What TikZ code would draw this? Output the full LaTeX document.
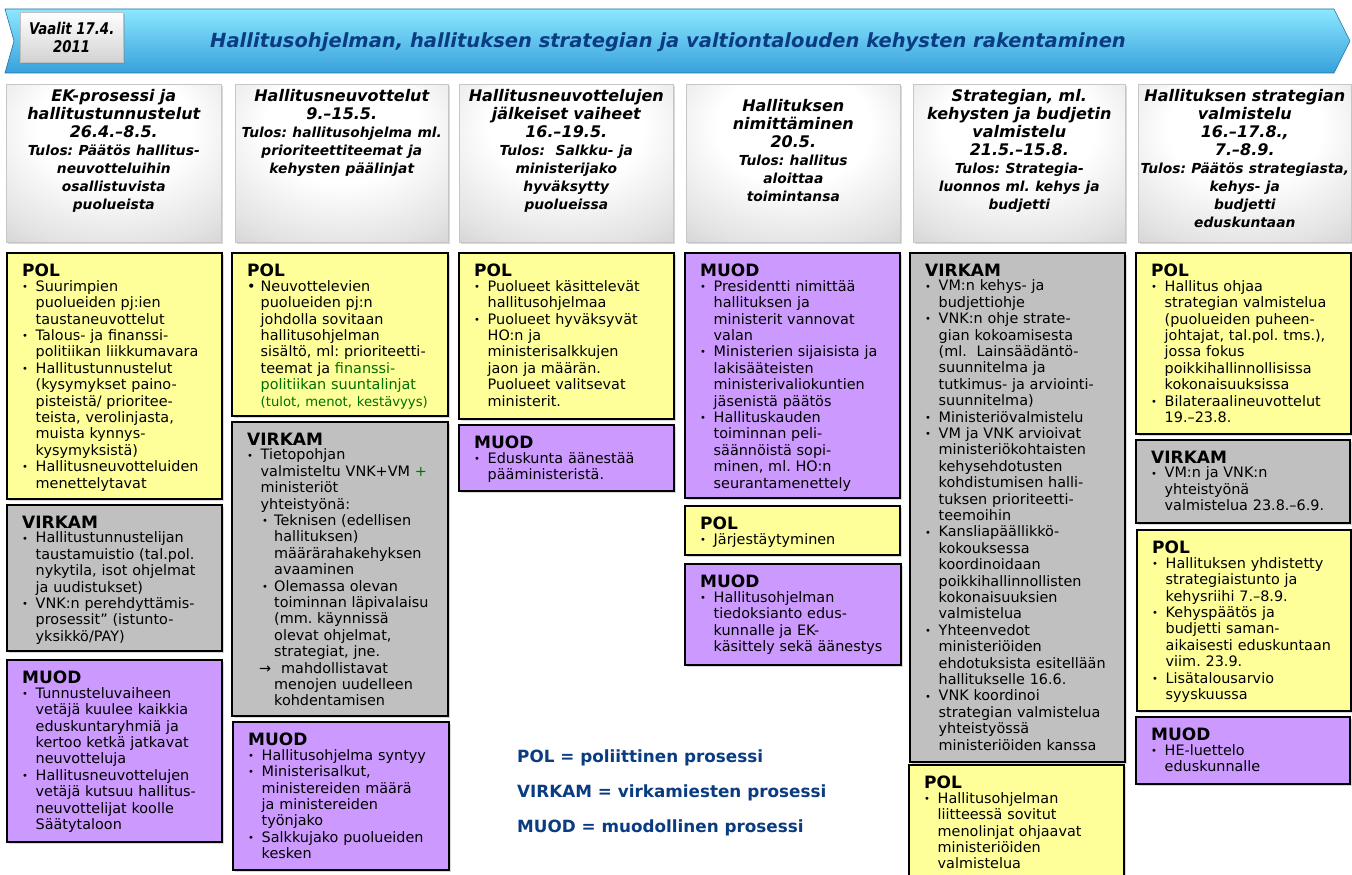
\documentclass[tikz,border=0pt]{standalone}
\usepackage{fontspec}
\setmainfont{DejaVu Sans}[ItalicFont={DejaVu Sans Oblique},BoldItalicFont={DejaVu Sans Bold Oblique}]
\usetikzlibrary{shadows}
\definecolor{polc}{HTML}{FFFF99}
\definecolor{virc}{HTML}{C0C0C0}
\definecolor{muoc}{HTML}{CC99FF}
\definecolor{navy}{RGB}{10,60,130}
\definecolor{grn}{RGB}{0,110,0}
\definecolor{banT}{RGB}{140,232,255}
\definecolor{banM}{RGB}{80,212,250}
\definecolor{banB}{RGB}{55,160,220}
\pgfdeclareradialshading{hdrshade}{\pgfpoint{0bp}{15bp}}{color(0bp)=(white); color(18bp)=(white); color(35bp)=(gray!22); color(50bp)=(gray!48); color(80bp)=(gray!65)}
\newcommand\lb{\newline}
\newcommand\bsym{\raisebox{0.9pt}{\fontsize{10}{10}\selectfont\textbullet}}
\newcommand\itA{\par\hangindent=13.5pt\hangafter=1\noindent\makebox[13.5pt][l]{\bsym}}
\newcommand\itAbig{\par\hangindent=13.5pt\hangafter=1\noindent\makebox[13.5pt][l]{\textbullet}}
\newcommand\itB{\par\hangindent=27pt\hangafter=1\noindent\hspace*{15pt}\makebox[12pt][l]{\bsym}}
\newcommand\itR{\par\hangindent=27pt\hangafter=1\noindent\hspace*{12pt}\makebox[22pt][l]{→}}
\newcommand\bxhead[1]{{\fontsize{17}{17}\selectfont\bfseries #1}\par\vspace{-2pt}}
\newcommand\tulos{\fontsize{13.8}{18}\selectfont}
\tikzset{
  pbox/.style={draw=black, line width=1.6pt, anchor=north west, inner sep=0pt, outer sep=0pt,
    drop shadow={shadow xshift=1.5pt, shadow yshift=-1.5pt, opacity=0.3}},
  hdr/.style={draw=gray!45, line width=0.6pt, shading=hdrshade, anchor=north west, inner sep=0pt,
    drop shadow={shadow xshift=2pt, shadow yshift=-2pt, opacity=0.3}},
  btxt/.style={anchor=north west, inner sep=0pt, align=left, font=\fontsize{14.4}{16.4}\selectfont},
  htxt/.style={anchor=north, inner sep=0pt, align=center, font=\bfseries\itshape\fontsize{16}{18}\selectfont},
  legend/.style={anchor=west, inner sep=0pt, text=navy, font=\bfseries\fontsize{16.8}{18}\selectfont}
}
\begin{document}
\frenchspacing
\begin{tikzpicture}[x=1pt,y=-1pt]
\useasboundingbox (0,0) rectangle (1352,875);
\fill[white] (0,0) rectangle (1352,875);
% banner
\shade[top color=banT, middle color=banM, bottom color=banB, draw=banB!70!black, line width=0.6pt]
  (5,9) -- (1334,9) -- (1350,41) -- (1334,73) -- (5,73) -- (14,41) -- cycle;
\node[draw=gray!50, top color=white, bottom color=gray!35, anchor=north west, minimum width=103pt, minimum height=50pt,
  inner sep=0pt, align=center, font=\bfseries\itshape\fontsize{14}{18}\selectfont,
  drop shadow={shadow xshift=2pt, shadow yshift=-2pt, opacity=0.35}] (vaalit) at (20,12)
  {\scalebox{0.95}[1.15]{Vaalit 17.4.}\\\scalebox{0.95}[1.15]{2011}};
\node[text=navy, inner sep=0pt, font=\bfseries\itshape\fontsize{19.5}{22}\selectfont] (title) at (668,42)
  {Hallitusohjelman, hallituksen strategian ja valtiontalouden kehysten rakentaminen};
% header boxes
\node[hdr, minimum width=215pt, minimum height=158pt] (h1) at (6,84) {};
\node[hdr, minimum width=213pt, minimum height=158pt] (h2) at (235,84) {};
\node[hdr, minimum width=214pt, minimum height=158pt] (h3) at (459,84) {};
\node[hdr, minimum width=214pt, minimum height=158pt] (h4) at (686,84) {};
\node[hdr, minimum width=212pt, minimum height=158pt] (h5) at (913,84) {};
\node[hdr, minimum width=213pt, minimum height=158pt] (h6) at (1138,84) {};
\node[htxt, text width=215pt] (h1T) at ([shift={(0,5)}]h1.north) {EK-prosessi ja\\hallitustunnustelut\\26.4.–8.5.\\\tulos Tulos: Päätös hallitus-\\neuvotteluihin\\osallistuvista\\puolueista};
\node[htxt, text width=215pt] (h2T) at ([shift={(0,5)}]h2.north) {Hallitusneuvottelut\\9.–15.5.\\\tulos Tulos: hallitusohjelma ml.\\prioriteettiteemat ja\\kehysten päälinjat};
\node[htxt, text width=215pt] (h3T) at ([shift={(0,5)}]h3.north) {Hallitusneuvottelujen\\jälkeiset vaiheet\\16.–19.5.\\\tulos Tulos:\ \ Salkku- ja\\ministerijako\\hyväksytty\\puolueissa};
\node[htxt, text width=215pt] (h4T) at ([shift={(0,15)}]h4.north) {Hallituksen\\nimittäminen\\20.5.\\\tulos Tulos: hallitus\\aloittaa\\toimintansa};
\node[htxt, text width=215pt] (h5T) at ([shift={(0,5)}]h5.north) {Strategian, ml.\\kehysten ja budjetin\\valmistelu\\21.5.–15.8.\\\tulos Tulos: Strategia-\\luonnos ml. kehys ja\\budjetti};
\node[htxt, text width=220pt] (h6T) at ([shift={(0,5)}]h6.north) {Hallituksen strategian\\valmistelu\\16.–17.8.,\\7.–8.9.\\\tulos Tulos: Päätös strategiasta,\\kehys- ja\\budjetti\\eduskuntaan};
% column 1
\node[pbox, fill=polc, minimum width=215pt, minimum height=246pt] (c1pol) at (7,253) {};
\node[btxt, text width=200pt] (c1polT) at ([shift={(15,11)}]c1pol.north west) {\bxhead{POL}
\itA Suurimpien\lb puolueiden pj:ien\lb taustaneuvottelut
\itA Talous- ja finanssi-\lb politiikan liikkumavara
\itA Hallitustunnustelut\lb (kysymykset paino-\lb pisteistä/ prioritee-\lb teista, verolinjasta,\lb muista kynnys-\lb kysymyksistä)
\itA Hallitusneuvotteluiden\lb menettelytavat\par};
\node[pbox, fill=virc, minimum width=215pt, minimum height=146pt] (c1vir) at (7,505) {};
\node[btxt, text width=200pt] (c1virT) at ([shift={(15,11)}]c1vir.north west) {\bxhead{VIRKAM}
\itA Hallitustunnustelijan\lb taustamuistio (tal.pol.\lb nykytila, isot ohjelmat\lb ja uudistukset)
\itA VNK:n perehdyttämis-\lb prosessit” (istunto-\lb yksikkö/PAY)\par};
\node[pbox, fill=muoc, minimum width=215pt, minimum height=182pt] (c1muo) at (7,660) {};
\node[btxt, text width=200pt] (c1muoT) at ([shift={(15,11)}]c1muo.north west) {\bxhead{MUOD}
\itA Tunnusteluvaiheen\lb vetäjä kuulee kaikkia\lb eduskuntaryhmiä ja\lb kertoo ketkä jatkavat\lb neuvotteluja
\itA Hallitusneuvottelujen\lb vetäjä kutsuu hallitus-\lb neuvottelijat koolle\lb Säätytaloon\par};
% column 2
\node[pbox, fill=polc, minimum width=216pt, minimum height=163pt] (c2pol) at (232,253) {};
\node[btxt, text width=200pt] (c2polT) at ([shift={(15,11)}]c2pol.north west) {\bxhead{POL}
\itAbig Neuvottelevien\lb puolueiden pj:n\lb johdolla sovitaan\lb hallitusohjelman\lb sisältö, ml: prioriteetti-\lb teemat ja \textcolor{grn}{finanssi-}\lb \textcolor{grn}{politiikan suuntalinjat}\lb {\color{grn}\fontsize{13.2}{16.4}\selectfont(tulot, menot, kestävyys)}\par};
\node[pbox, fill=virc, minimum width=216pt, minimum height=294pt] (c2vir) at (232,422) {};
\node[btxt, text width=200pt] (c2virT) at ([shift={(15,11)}]c2vir.north west) {\bxhead{VIRKAM}
\itA Tietopohjan\lb valmisteltu VNK+VM \textcolor{grn}{+}\lb ministeriöt\lb yhteistyönä:
\itB Teknisen (edellisen\lb hallituksen)\lb määrärahakehyksen\lb avaaminen
\itB Olemassa olevan\lb toiminnan läpivalaisu\lb (mm. käynnissä\lb olevat ohjelmat,\lb strategiat, jne.
\itR mahdollistavat\lb menojen uudelleen\lb kohdentamisen\par};
\node[pbox, fill=muoc, minimum width=216pt, minimum height=148pt] (c2muo) at (233,722) {};
\node[btxt, text width=200pt] (c2muoT) at ([shift={(15,11)}]c2muo.north west) {\bxhead{MUOD}
\itA Hallitusohjelma syntyy
\itA Ministerisalkut,\lb ministereiden määrä\lb ja ministereiden\lb työnjako
\itA Salkkujako puolueiden\lb kesken\par};
% column 3
\node[pbox, fill=polc, minimum width=215pt, minimum height=166pt] (c3pol) at (459,253) {};
\node[btxt, text width=200pt] (c3polT) at ([shift={(15,11)}]c3pol.north west) {\bxhead{POL}
\itA Puolueet käsittelevät\lb hallitusohjelmaa
\itA Puolueet hyväksyvät\lb HO:n ja\lb ministerisalkkujen\lb jaon ja määrän.\lb Puolueet valitsevat\lb ministerit.\par};
\node[pbox, fill=muoc, minimum width=215pt, minimum height=66pt] (c3muo) at (459,425) {};
\node[btxt, text width=200pt] (c3muoT) at ([shift={(15,11)}]c3muo.north west) {\bxhead{MUOD}
\itA Eduskunta äänestää\lb pääministeristä.\par};
% column 4
\node[pbox, fill=muoc, minimum width=215pt, minimum height=245pt] (c4muo) at (685,253) {};
\node[btxt, text width=200pt] (c4muoT) at ([shift={(15,11)}]c4muo.north west) {\bxhead{MUOD}
\itA Presidentti nimittää\lb hallituksen ja\lb ministerit vannovat\lb valan
\itA Ministerien sijaisista ja\lb lakisääteisten\lb ministerivaliokuntien\lb jäsenistä päätös
\itA Hallituskauden\lb toiminnan peli-\lb säännöistä sopi-\lb minen, ml. HO:n\lb seurantamenettely\par};
\node[pbox, fill=polc, minimum width=215pt, minimum height=49pt] (c4pol) at (685,506) {};
\node[btxt, text width=200pt] (c4polT) at ([shift={(15,11)}]c4pol.north west) {\bxhead{POL}
\itA Järjestäytyminen\par};
\node[pbox, fill=muoc, minimum width=216pt, minimum height=101pt] (c4muo2) at (685,564) {};
\node[btxt, text width=200pt] (c4muo2T) at ([shift={(15,11)}]c4muo2.north west) {\bxhead{MUOD}
\itA Hallitusohjelman\lb tiedoksianto edus-\lb kunnalle ja EK-\lb käsittely sekä äänestys\par};
% column 5
\node[pbox, fill=virc, minimum width=215pt, minimum height=509pt] (c5vir) at (910,253) {};
\node[btxt, text width=200pt] (c5virT) at ([shift={(15,11)}]c5vir.north west) {\bxhead{VIRKAM}
\itA VM:n kehys- ja\lb budjettiohje
\itA VNK:n ohje strate-\lb gian kokoamisesta\lb (ml.\ \ Lainsäädäntö-\lb suunnitelma ja\lb tutkimus- ja arviointi-\lb suunnitelma)
\itA Ministeriövalmistelu
\itA VM ja VNK arvioivat\lb ministeriökohtaisten\lb kehysehdotusten\lb kohdistumisen halli-\lb tuksen prioriteetti-\lb teemoihin
\itA Kansliapäällikkö-\lb kokouksessa\lb koordinoidaan\lb poikkihallinnollisten\lb kokonaisuuksien\lb valmistelua
\itA Yhteenvedot\lb ministeriöiden\lb ehdotuksista esitellään\lb hallitukselle 16.6.
\itA VNK koordinoi\lb strategian valmistelua\lb yhteistyössä\lb ministeriöiden kanssa\par};
\node[pbox, fill=polc, minimum width=215pt, minimum height=120pt] (c5pol) at (909,765) {};
\node[btxt, text width=200pt] (c5polT) at ([shift={(15,11)}]c5pol.north west) {\bxhead{POL}
\itA Hallitusohjelman\lb liitteessä sovitut\lb menolinjat ohjaavat\lb ministeriöiden\lb valmistelua\par};
% column 6
\node[pbox, fill=polc, minimum width=215pt, minimum height=181pt] (c6pol) at (1136,253) {};
\node[btxt, text width=200pt] (c6polT) at ([shift={(15,11)}]c6pol.north west) {\bxhead{POL}
\itA Hallitus ohjaa\lb strategian valmistelua\lb (puolueiden puheen-\lb johtajat, tal.pol. tms.),\lb jossa fokus\lb poikkihallinnollisissa\lb kokonaisuuksissa
\itA Bilateraalineuvottelut\lb 19.–23.8.\par};
\node[pbox, fill=virc, minimum width=214pt, minimum height=83pt] (c6vir) at (1136,440) {};
\node[btxt, text width=200pt] (c6virT) at ([shift={(15,11)}]c6vir.north west) {\bxhead{VIRKAM}
\itA VM:n ja VNK:n\lb yhteistyönä\lb valmistelua 23.8.–6.9.\par};
\node[pbox, fill=polc, minimum width=214pt, minimum height=181pt] (c6pol2) at (1137,530) {};
\node[btxt, text width=200pt] (c6pol2T) at ([shift={(15,11)}]c6pol2.north west) {\bxhead{POL}
\itA Hallituksen yhdistetty\lb strategiaistunto ja\lb kehysriihi 7.–8.9.
\itA Kehyspäätös ja\lb budjetti saman-\lb aikaisesti eduskuntaan\lb viim. 23.9.
\itA Lisätalousarvio\lb syyskuussa\par};
\node[pbox, fill=muoc, minimum width=214pt, minimum height=67pt] (c6muo) at (1136,717) {};
\node[btxt, text width=200pt] (c6muoT) at ([shift={(15,11)}]c6muo.north west) {\bxhead{MUOD}
\itA HE-luettelo\lb eduskunnalle\par};
% legend
\node[legend] (leg1) at (517,758) {POL = poliittinen prosessi};
\node[legend] (leg2) at (517,793) {VIRKAM = virkamiesten prosessi};
\node[legend] (leg3) at (517,828) {MUOD = muodollinen prosessi};
\end{tikzpicture}
\end{document}
